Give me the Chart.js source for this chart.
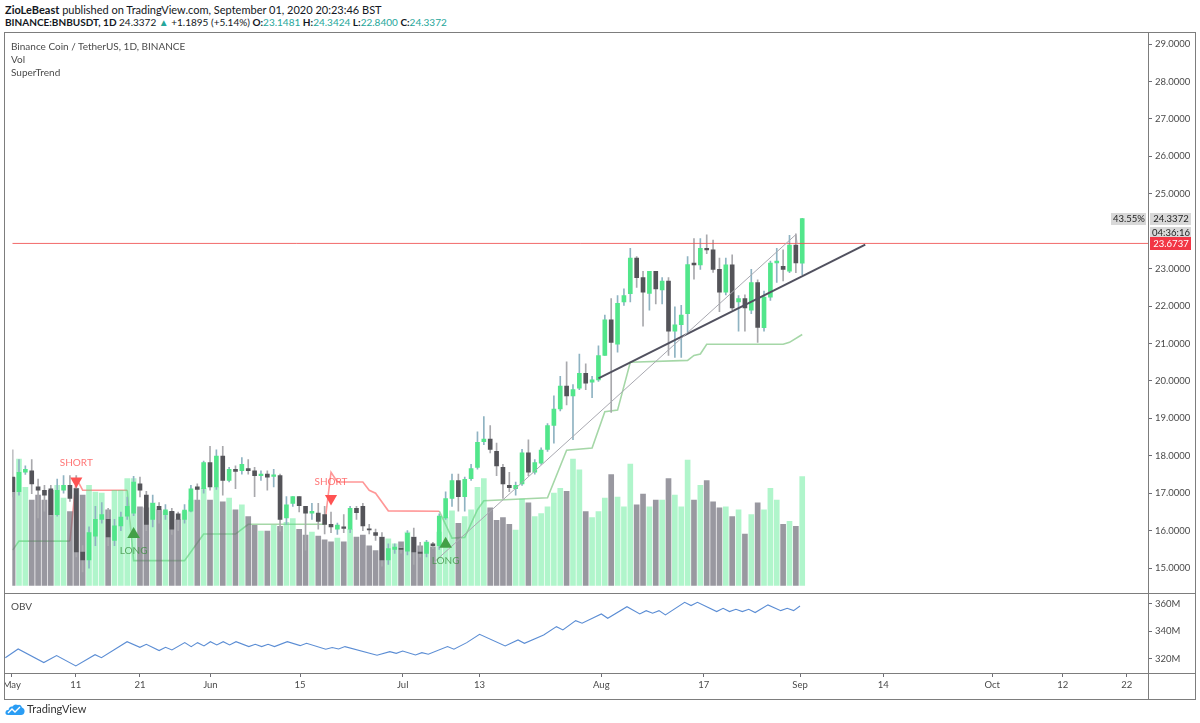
<!DOCTYPE html>
<html><head><meta charset="utf-8">
<script src="https://cdn.jsdelivr.net/npm/chart.js@4.4.1/dist/chart.umd.min.js"></script>
<style>
html,body{margin:0;padding:0;background:#fff;width:1200px;height:723px;overflow:hidden;font-family:Lato,'Liberation Sans',sans-serif;color:#131722;}
.abs{position:absolute;}
#h1{left:5px;top:3px;font-size:11px;white-space:nowrap;}
#h2{left:5px;top:16px;font-size:10px;white-space:nowrap;}
.t{color:#26a69a;}
.lg{position:absolute;left:11px;font-size:10px;color:#4a4a4a;white-space:nowrap;}
.ln{position:absolute;background:#7d7d7d;}
#ft{left:27px;top:702px;font-size:11px;color:#333;}
</style></head><body>
<div id="h1" class="abs"><b>ZioLeBeast</b> published on TradingView.com, September 01, 2020 20:23:46 BST</div>
<div id="h2" class="abs"><b>BINANCE:BNBUSDT, 1D</b> 24.3372 <span class="t">▲</span> +1.1895 (+5.14%) <b>O:</b><span class="t">23.1481</span> <b>H:</b><span class="t">24.3424</span> <b>L:</b><span class="t">22.8400</span> <b>C:</b><span class="t">24.3372</span></div>

<div class="abs" style="left:5px;top:33px;width:1190px;height:560px;"><canvas id="cA" width="1190" height="560"></canvas></div>
<div class="abs" style="left:5px;top:593px;width:1190px;height:107px;"><canvas id="cB" width="1190" height="107"></canvas></div>

<div class="lg" style="top:40px">Binance Coin / TetherUS, 1D, BINANCE</div>
<div class="lg" style="top:53px">Vol</div>
<div class="lg" style="top:66px">SuperTrend</div>
<div class="lg" style="top:600px">OBV</div>

<div class="ln" style="left:4px;top:32px;width:1192px;height:1px"></div>
<div class="ln" style="left:4px;top:699px;width:1192px;height:1px"></div>
<div class="ln" style="left:4px;top:32px;width:1px;height:668px"></div>
<div class="ln" style="left:1195px;top:32px;width:1px;height:668px"></div>
<div class="ln" style="left:4px;top:593px;width:1192px;height:1px"></div>
<div class="ln" style="left:4px;top:673px;width:1192px;height:1px"></div>
<div class="ln" style="left:1148px;top:32px;width:1px;height:668px"></div>

<svg class="abs" style="left:5px;top:703px" width="20" height="13" viewBox="0 0 20 13">
<path d="M3 12 Q0 12 0.5 9 Q1 6.5 3.5 7 Q4 3 7.5 3.5 Q9.5 0.5 13 2 Q16 1 17 4.5 Q20 5.5 19.5 9 Q19 12 16 12 Z" fill="#2a9df4"/>
<polyline points="3,10 7,6 10,9 15,4" fill="none" stroke="#fff" stroke-width="1.4"/>
</svg>
<div id="ft" class="abs">TradingView</div>

<script>
// ---- data (day offsets from 2020-05-01) ----
const firstDay = -1; // 2020-04-30
const open = [17.43,17.04,17.56,17.60,17.17,17.08,17.12,16.43,17.08,17.21,
17.12,15.43,15.22,15.85,16.30,16.30,15.74,16.13,16.39,16.47,
17.25,16.95,16.30,16.65,16.43,16.52,16.45,16.30,16.52,17.17,
17.12,17.82,17.17,17.99,17.34,17.64,17.60,17.66,17.60,17.47,
17.51,17.45,17.47,16.34,16.73,16.91,16.65,16.47,16.47,16.43,
16.17,16.04,16.10,16.04,16.60,16.65,16.04,15.95,15.82,15.22,
15.50,15.52,15.45,15.82,15.43,15.39,15.65,15.60,16.34,16.86,
17.34,16.91,17.39,17.69,18.38,18.45,18.12,17.69,17.21,17.12,
17.25,18.08,17.56,17.80,18.17,18.81,19.25,19.86,19.60,19.81,
20.20,19.97,20.03,20.68,21.63,20.98,22.11,22.33,23.28,22.76,
22.34,22.93,22.43,22.67,21.33,21.50,21.80,23.15,23.10,23.54,
23.50,22.98,22.37,23.10,22.11,22.20,21.89,22.63,21.42,22.24,
23.15,23.06,22.93,23.63,23.1481];
const high = [18.16,17.90,17.73,17.90,17.38,17.21,17.21,17.38,17.47,17.47,
17.47,15.60,16.10,16.65,16.75,16.60,16.30,16.50,16.90,17.45,
17.43,17.05,16.95,16.75,16.70,16.60,16.50,16.70,17.21,17.25,
17.86,18.25,18.16,18.25,17.69,17.73,17.95,17.90,17.69,17.60,
17.60,17.64,17.51,16.91,16.91,16.91,16.65,16.73,16.73,16.65,
16.50,16.20,16.43,16.65,16.65,16.73,16.17,16.04,15.95,15.65,
15.65,15.56,16.00,16.07,15.69,15.74,15.69,16.45,17.04,17.51,
17.51,17.43,17.77,18.64,19.05,18.81,18.34,17.77,17.56,17.30,
18.17,18.43,17.90,18.21,18.86,19.60,20.12,20.51,19.90,20.72,
20.46,20.12,20.94,21.76,22.20,22.28,22.46,23.54,23.32,22.93,
22.93,22.93,22.76,22.76,21.98,22.02,23.32,23.80,23.80,23.90,
23.76,23.28,23.28,23.37,22.28,22.30,22.98,22.70,22.40,23.20,
23.54,23.50,23.89,23.93,24.3424];
const low = [16.90,16.95,17.50,16.99,16.34,16.52,16.39,16.39,17.00,16.78,
15.30,14.90,15.00,15.60,16.20,15.60,15.60,16.00,16.30,16.40,
16.90,16.00,16.10,16.20,16.30,15.90,16.00,16.20,16.50,16.82,
17.00,17.08,17.10,16.95,17.30,17.12,17.51,17.51,16.91,17.34,
17.08,17.17,15.99,16.17,16.65,16.50,15.48,16.30,16.04,15.91,
15.95,15.90,15.95,15.95,16.30,16.00,15.91,15.74,15.05,15.10,
15.39,15.40,15.35,15.10,15.30,15.30,15.52,15.50,16.30,16.65,
16.52,16.52,17.34,17.64,18.30,18.08,17.47,16.86,17.04,16.95,
17.21,17.47,17.51,17.77,18.12,18.34,19.20,19.36,18.43,19.77,
19.77,19.55,19.99,20.68,19.16,20.77,22.02,22.11,22.50,21.46,
21.89,22.06,22.06,20.68,20.63,20.63,21.29,22.72,22.98,23.40,
22.90,21.85,22.30,21.90,21.33,21.33,21.80,21.03,21.33,22.15,
22.63,22.67,22.89,22.89,22.84];
const close = [17.04,17.56,17.64,17.25,17.08,16.95,16.43,17.08,17.21,16.86,
15.43,15.22,15.95,16.30,16.43,15.83,16.13,16.36,16.65,17.30,
17.08,16.17,16.73,16.56,16.56,16.04,16.30,16.55,17.12,17.10,
17.82,17.17,17.99,17.34,17.64,17.58,17.77,17.60,17.47,17.51,
17.43,17.49,16.30,16.69,16.91,16.67,16.47,16.52,16.25,16.17,
16.10,16.15,16.06,16.60,16.48,16.13,16.02,15.87,15.22,15.52,
15.56,15.50,15.93,15.43,15.39,15.69,15.60,16.39,16.86,17.34,
16.91,17.37,17.66,18.36,18.45,18.17,17.73,17.25,17.15,17.21,
18.08,17.56,17.82,18.15,18.81,19.25,19.86,19.60,19.77,20.20,
19.94,20.03,20.68,21.63,21.03,22.07,22.28,23.28,22.76,22.37,
22.93,22.46,22.67,21.33,21.50,21.76,23.11,23.10,23.54,23.50,
22.98,22.37,23.10,21.95,22.20,21.95,22.63,21.43,22.24,23.15,
23.20,22.98,23.63,23.15,24.3372];
const volume = [11.1,13.0,10.1,8.8,9.3,8.8,9.8,10.3,9.0,7.6,
10.0,9.3,10.3,9.6,9.5,7.8,9.8,9.8,11.0,11.0,
8.1,8.0,8.5,7.8,7.6,7.6,6.8,7.6,8.8,8.8,
10.0,8.8,10.1,8.6,9.0,7.8,8.3,7.1,6.2,5.6,
5.6,6.2,6.1,6.5,6.9,5.8,5.2,5.5,5.1,4.7,
4.5,4.9,4.5,5.8,5.0,5.2,4.1,3.6,5.0,4.8,
4.3,4.5,5.5,5.0,4.1,4.5,4.0,5.5,7.0,7.7,
6.4,7.1,7.8,10.1,11.0,8.0,6.7,7.0,6.3,5.7,
8.9,8.5,7.1,7.4,8.1,9.5,10.0,9.7,13.0,11.9,
7.6,7.0,7.6,9.0,11.4,9.1,8.1,12.5,8.3,9.4,
8.1,8.8,8.8,11.0,9.3,8.1,12.9,8.8,10.3,10.8,
8.6,8.0,8.1,7.1,7.8,5.3,7.3,8.5,7.8,10.0,
8.8,6.3,6.6,6.1,11.2];

// SuperTrend vertices [day, price]
const stUp1 = [[-1,15.48],[0,15.72],[8,15.72]];
const stDown1 = [[8,15.72],[9,17.40],[10,17.08],[17,17.08]];
const stUp2 = [[17,17.08],[18,15.20],[26,15.20],[29,15.91],[34,15.91],[36,16.17],[48,16.17]];
const stDown2 = [[48,16.17],[49,17.56],[50,17.30],[54,17.30],[55,17.08],[56,17.00],[58,16.53],[66,16.52]];
const stUp3 = [[66,16.52],[68,15.80],[70,15.82],[72,16.56],[73,16.80],[83,16.88],[86,18.15],[90,18.21],[92,19.18],[94,19.22],[96,20.50],[105,20.55],[106,20.68],[107,20.72],[108,20.98],[120,20.98],[121,21.03],[123,21.24]];

// signals
const signalDays = [9,18,49,67];
const signalTypes = ['SHORT','LONG','SHORT','LONG'];
const signalMarkPrice = [17.33,15.90,16.86,15.64];
const signalTextPrice = [17.81,15.47,17.31,15.20];

// drawings
const thinTrend = [[65,15.13],[122,23.91],[122.2,23.67]];
const thickTrend = [[91,20.07],[132.9,23.64]];
const priceLineValue = 23.6737;
const lastPrice = 24.3372;

// OBV vertices [day, millions]
const obv = [[-1,320.7],[1,327.1],[5,317.1],[7,322.2],[10,314.7],[13,322.9],[14,320.7],[18,332.4],[20,328.3],[21,330.5],
[23,325.9],[24,328.3],[25,326.4],[27,331.7],[28,328.8],[29,331.7],[30,329.3],[31,332.4],[32,330.0],[33,332.4],
[34,330.0],[35,332.4],[37,328.8],[38,330.5],[39,328.8],[40,330.5],[41,328.8],[43,332.4],[45,329.5],[46,331.2],
[49,326.9],[50,328.1],[51,327.1],[52,328.8],[57,322.5],[59,325.1],[60,323.9],[61,325.6],[63,322.7],[64,324.4],
[65,323.2],[68,328.8],[69,326.9],[71,331.7],[73,337.8],[77,329.3],[79,333.7],[80,331.2],[83,337.3],[85,343.4],
[86,341.0],[88,347.8],[89,345.9],[92,352.7],[93,349.5],[96,358.0],[98,352.7],[99,355.1],[100,353.2],[101,355.1],
[102,352.0],[105,361.2],[106,358.8],[107,361.2],[110,354.4],[111,356.8],[112,354.4],[113,356.1],[114,354.4],[115,356.1],
[116,353.7],[118,359.3],[120,355.1],[121,356.8],[122,355.1],[123,358.5]];

const priceTicks = [15,16,17,18,19,20,21,22,23,25,26,27,28,29];
const obvTicks = [320,340,360];
const xTickDays = [0,10,20,31,45,61,73,92,108,123,136,153,164,174];
const xTickLabels = ['May','11','21','Jun','15','Jul','13','Aug','17','Sep','14','Oct','12','22'];

// ---- build ----
const X_MIN = -1.05, X_MAX = 177.3;
const days = open.map((_, i) => firstDay + i);
const isUp = i => close[i] >= open[i];
const pts = a => a.map(p => ({x: p[0], y: p[1]}));
const AX = '#6d6d75', TXT = '#4a4a4a';
const tickFont = {family: 'Lato, sans-serif', size: 9.5};

const overlay = {
  id: 'overlay',
  afterDatasetsDraw(chart) {
    const {ctx, scales: {x, y}} = chart;
    ctx.save();
    ctx.font = '10px Lato, sans-serif';
    ctx.textAlign = 'center'; ctx.textBaseline = 'middle';
    signalDays.forEach((d, i) => {
      ctx.fillStyle = signalTypes[i] === 'SHORT' ? 'rgba(255,82,82,0.8)' : 'rgba(56,142,60,0.75)';
      ctx.fillText(signalTypes[i], x.getPixelForValue(d), y.getPixelForValue(signalTextPrice[i]));
    });
    ctx.restore();
  },
  afterDraw(chart) {
    const {ctx, scales: {y}} = chart;
    const ax = chart.chartArea.right;
    ctx.save();
    ctx.font = '9.5px Lato, sans-serif';
    ctx.textBaseline = 'middle'; ctx.textAlign = 'center';
    const yl = Math.round(y.getPixelForValue(lastPrice));
    ctx.fillStyle = '#d8d8d8';
    ctx.fillRect(ax + 2, yl - 6, 41, 12);
    ctx.fillRect(ax - 37, yl - 6, 35, 12);
    ctx.fillRect(ax + 2, yl + 8, 41, 12);
    ctx.fillStyle = '#222';
    ctx.fillText(lastPrice.toFixed(4), ax + 23, yl);
    ctx.fillText('43.55%', ax - 19, yl);
    ctx.fillText('04:36:16', ax + 23, yl + 14);
    const yr = Math.round(y.getPixelForValue(priceLineValue));
    ctx.fillStyle = '#f23645';
    ctx.fillRect(ax + 2, yr - 6, 41, 13);
    ctx.fillStyle = '#fff';
    ctx.fillText(priceLineValue.toFixed(4), ax + 23, yr + 0.5);
    ctx.restore();
  }
};

const lineDs = (data, color, width, order) => ({
  type: 'line', data: pts(data), borderColor: color, borderWidth: width,
  pointRadius: 0, tension: 0, order, yAxisID: 'y', clip: true
});

new Chart(document.getElementById('cA'), {
  type: 'bar',
  data: {
    datasets: [
      lineDs(stUp1, 'rgba(76,175,80,0.5)', 1.6, 20),
      lineDs(stDown1, 'rgba(255,82,82,0.6)', 1.6, 20),
      lineDs(stUp2, 'rgba(76,175,80,0.5)', 1.6, 20),
      lineDs(stDown2, 'rgba(255,82,82,0.6)', 1.6, 20),
      lineDs(stUp3, 'rgba(76,175,80,0.5)', 1.6, 20),
      {
        type: 'bar', yAxisID: 'yv', order: 10, grouped: false, barThickness: 5,
        data: days.map((d, i) => ({x: d, y: volume[i]})),
        backgroundColor: days.map((d, i) => isUp(i) ? 'rgba(80,232,140,0.45)' : 'rgba(110,108,120,0.7)')
      },
      {
        type: 'bar', yAxisID: 'y', order: 3, grouped: false, barThickness: 1,
        data: days.map((d, i) => ({x: d, y: [low[i], high[i]]})),
        backgroundColor: days.map((d, i) => isUp(i) ? '#8fb3c2' : '#a9a9ad')
      },
      {
        type: 'bar', yAxisID: 'y', order: 2, grouped: false, barThickness: 4, minBarLength: 1,
        data: days.map((d, i) => ({x: d, y: [Math.min(open[i], close[i]), Math.max(open[i], close[i])]})),
        backgroundColor: days.map((d, i) => isUp(i) ? '#52e68b' : '#545459')
      },
      lineDs(thinTrend, '#a8a8b0', 1, 1),
      lineDs(thickTrend, '#51515f', 2, 1),
      lineDs([[X_MIN, priceLineValue], [X_MAX, priceLineValue]], 'rgba(240,80,80,0.85)', 1, 1),
      {
        type: 'line', showLine: false, yAxisID: 'y', order: 0,
        data: signalDays.map((d, i) => ({x: d, y: signalMarkPrice[i]})),
        pointStyle: 'triangle',
        pointRadius: signalDays.map((d, i) => signalTypes[i] === 'SHORT' ? 7 : 7.3),
        rotation: signalDays.map((d, i) => signalTypes[i] === 'SHORT' ? 180 : 0),
        pointBackgroundColor: signalDays.map((d, i) => signalTypes[i] === 'SHORT' ? '#ff5252' : '#43a047'),
        pointBorderWidth: 0, borderColor: 'transparent'
      }
    ]
  },
  options: {
    responsive: false, animation: false, events: [],
    layout: {padding: 0},
    plugins: {legend: {display: false}, tooltip: {enabled: false}},
    scales: {
      x: {type: 'linear', min: X_MIN, max: X_MAX, display: false, offset: false},
      y: {
        position: 'right', min: 14.53, max: 29.1,
        afterBuildTicks: s => { s.ticks = priceTicks.map(v => ({value: v})); },
        afterFit: s => { s.width = 47; s.paddingTop = 0; s.paddingBottom = 0; },
        ticks: {font: tickFont, color: TXT, padding: 3, callback: v => Number(v).toFixed(4)},
        grid: {drawOnChartArea: false, drawTicks: true, tickLength: 4, color: AX},
        border: {display: false}
      },
      yv: {display: false, min: 0, max: 56}
    }
  },
  plugins: [overlay]
});

new Chart(document.getElementById('cB'), {
  type: 'line',
  data: {datasets: [{data: pts(obv), borderColor: '#5b8dd4', borderWidth: 1.1, pointRadius: 0, tension: 0}]},
  options: {
    responsive: false, animation: false, events: [],
    layout: {padding: 0},
    plugins: {legend: {display: false}, tooltip: {enabled: false}},
    scales: {
      x: {
        type: 'linear', min: X_MIN, max: X_MAX, offset: false,
        afterBuildTicks: s => { s.ticks = xTickDays.map(v => ({value: v})); },
        afterFit: s => { s.height = 27; s.paddingLeft = 0; s.paddingRight = 0; },
        ticks: {font: tickFont, color: TXT, padding: 2, autoSkip: false, maxRotation: 0,
          callback: v => { const k = xTickDays.indexOf(v); return k >= 0 ? xTickLabels[k] : ''; }},
        grid: {drawOnChartArea: false, drawTicks: true, tickLength: 4, color: AX},
        border: {display: false}
      },
      y: {
        position: 'right', min: 309.5, max: 368,
        afterBuildTicks: s => { s.ticks = obvTicks.map(v => ({value: v})); },
        afterFit: s => { s.width = 47; s.paddingTop = 0; s.paddingBottom = 0; },
        ticks: {font: tickFont, color: TXT, padding: 3, callback: v => v + 'M'},
        grid: {drawOnChartArea: false, drawTicks: true, tickLength: 4, color: AX},
        border: {display: false}
      }
    }
  }
});
</script>
</body></html>
